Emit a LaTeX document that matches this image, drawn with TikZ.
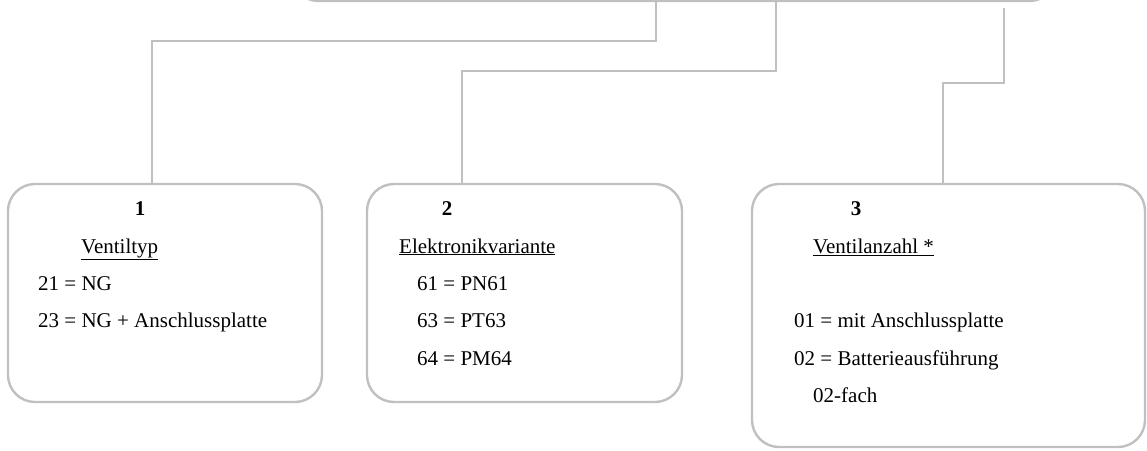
\documentclass[tikz,border=0pt]{standalone}
\usepackage{fontspec}
\setmainfont{Liberation Serif}
\usepackage{tikz}
\definecolor{linegray}{RGB}{192,192,192}

\begin{document}
\begin{tikzpicture}[x=1pt, y=-1pt,
    bnode/.style={draw=linegray, line width=2.4pt, rounded corners=27pt, rectangle},
    tnode/.style={inner sep=0pt, anchor=base west, font=\fontsize{21}{25}\selectfont},
    hnode/.style={inner sep=0pt, anchor=base, font=\fontsize{21}{25}\selectfont\bfseries},
    link/.style={draw=linegray, line width=2.4pt}]
    \useasboundingbox (0,0) rectangle (1147,450);

    \node[bnode, minimum width=765pt, minimum height=80pt] (top) at (674,-39) {};
    \node[bnode, minimum width=314pt, minimum height=218pt] (b1) at (165,293) {};
    \node[bnode, minimum width=315pt, minimum height=218pt] (b2) at (524.5,293) {};
    \node[bnode, minimum width=393pt, minimum height=263pt] (b3) at (948.5,315.5) {};

    \node[hnode] (h1) at (140,215) {1};
    \node[tnode] (v1) at (81,253) {\underline{Ventiltyp}};
    \node[tnode] (v1a) at (38,290.5) {21 = NG};
    \node[tnode] (v1b) at (38,327) {23 = NG + Anschlussplatte};

    \node[hnode] (h2) at (447,215) {2};
    \node[tnode] (v2) at (399,253) {\underline{Elektronikvariante}};
    \node[tnode] (v2a) at (417,290.5) {61 = PN61};
    \node[tnode] (v2b) at (417,327) {63 = PT63};
    \node[tnode] (v2c) at (417,365) {64 = PM64};

    \node[hnode] (h3) at (856,215) {3};
    \node[tnode] (v3) at (813,253) {\underline{Ventilanzahl *}};
    \node[tnode] (v3a) at (794,327) {01 = mit Anschlussplatte};
    \node[tnode] (v3b) at (794,365) {02 = Batterieausführung};
    \node[tnode] (v3c) at (813,402) {02-fach};

    % bends of the connectors
    \coordinate (j1) at (656,41);
    \coordinate (j2) at (776,71);
    \coordinate (j3) at (1004,83);

    \draw[link] (top.south -| j1) -- (j1) -| ([xshift=-13pt]b1.north);
    \draw[link] (top.south -| j2) -- (j2) -| ([xshift=-62.5pt]b2.north);
    \draw[link] ([yshift=-6pt]top.south -| j3) -- (j3) -| ([xshift=-5.5pt]b3.north);
\end{tikzpicture}
\end{document}
